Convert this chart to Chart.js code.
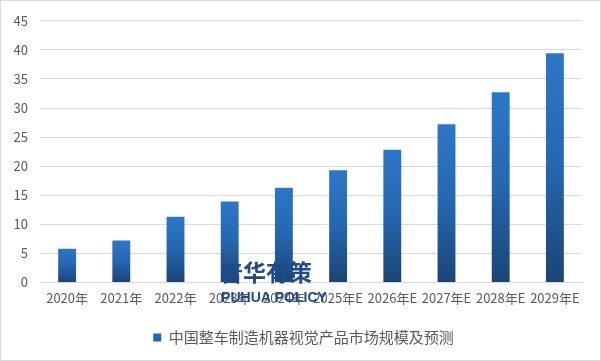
<!DOCTYPE html>
<html>
<head>
<meta charset="utf-8">
<script src="https://cdn.jsdelivr.net/npm/chart.js@4"></script>
<style>
html,body{margin:0;padding:0;background:#fff;}
#wrap{width:601px;height:361px;box-sizing:border-box;border:1px solid #d9d9d9;position:relative;}
canvas{display:block;}
</style>
</head>
<body>
<div id="wrap"><canvas id="c" width="599" height="359"></canvas></div>
<script>
const categories = ['2020年','2021年','2022年','2023年','2024年','2025年E','2026年E','2027年E','2028年E','2029年E'];
const seriesName = '中国整车制造机器视觉产品市场规模及预测';
const values = [5.8, 7.2, 11.3, 13.9, 16.3, 19.3, 22.8, 27.2, 32.7, 39.4];
const yTicks = [0, 5, 10, 15, 20, 25, 30, 35, 40, 45];

const CJK = '"Microsoft YaHei","Noto Sans CJK SC","Noto Sans",sans-serif';

function barGradient(ctx) {
  const chart = ctx.chart;
  if (!chart.chartArea || ctx.type !== 'data') return '#2566B0';
  const y = chart.scales.y;
  const top = y.getPixelForValue(values[ctx.dataIndex]);
  const base = y.getPixelForValue(0);
  const g = chart.ctx.createLinearGradient(0, top, 0, base);
  g.addColorStop(0, '#2D77C8');
  g.addColorStop(0.5, '#2566B0');
  g.addColorStop(1, '#1A4574');
  return g;
}

const shiftLegend = {
  id: 'shiftLegend',
  afterLayout(chart) {
    if (chart.legend) { chart.legend.left += 12; chart.legend.right += 12; }
  }
};

const watermark = {
  id: 'watermark',
  afterDraw(chart) {
    const c = chart.ctx;
    c.save();
    c.fillStyle = '#1F4C88';
    c.textAlign = 'center';
    c.textBaseline = 'middle';
    c.font = 'bold 23px ' + CJK;
    c.fillText('普华有策', 265, 271);
    c.font = 'bold 14px "Liberation Sans",Arial,sans-serif';
    c.fillText('PUHUA POLICY', 273, 297);
    c.restore();
  }
};

new Chart(document.getElementById('c'), {
  type: 'bar',
  data: {
    labels: categories,
    datasets: [{
      label: seriesName,
      data: values,
      backgroundColor: barGradient,
      borderWidth: 0,
      categoryPercentage: 1.0,
      barPercentage: 0.33
    }]
  },
  options: {
    responsive: false,
    animation: false,
    devicePixelRatio: 1,
    layout: { padding: { top: 18, right: 18, left: 0, bottom: 5 } },
    plugins: {
      tooltip: { enabled: false },
      legend: {
        position: 'bottom',
        labels: {
          boxWidth: 8,
          boxHeight: 8,
          padding: 16,
          color: '#595959',
          font: { family: CJK, size: 15 },
          generateLabels(chart) {
            return [{ text: seriesName, fillStyle: '#2566B0', strokeStyle: '#2566B0', lineWidth: 0, datasetIndex: 0, hidden: false, fontColor: '#595959' }];
          }
        }
      }
    },
    scales: {
      x: {
        grid: { display: false, drawTicks: false },
        border: { display: true, color: '#d9d9d9', width: 1 },
        ticks: { color: '#595959', font: { family: CJK, size: 13 }, padding: 8, maxRotation: 0, autoSkip: false }
      },
      y: {
        min: 0, max: 45,
        afterBuildTicks(axis) { axis.ticks = yTicks.map(v => ({ value: v })); },
        afterFit(axis) { axis.width = 39; },
        grid: { color: '#d9d9d9', drawTicks: false },
        border: { display: false },
        ticks: { color: '#595959', font: { family: CJK, size: 13 }, padding: 12 }
      }
    }
  },
  plugins: [watermark, shiftLegend]
});
</script>
</body>
</html>
